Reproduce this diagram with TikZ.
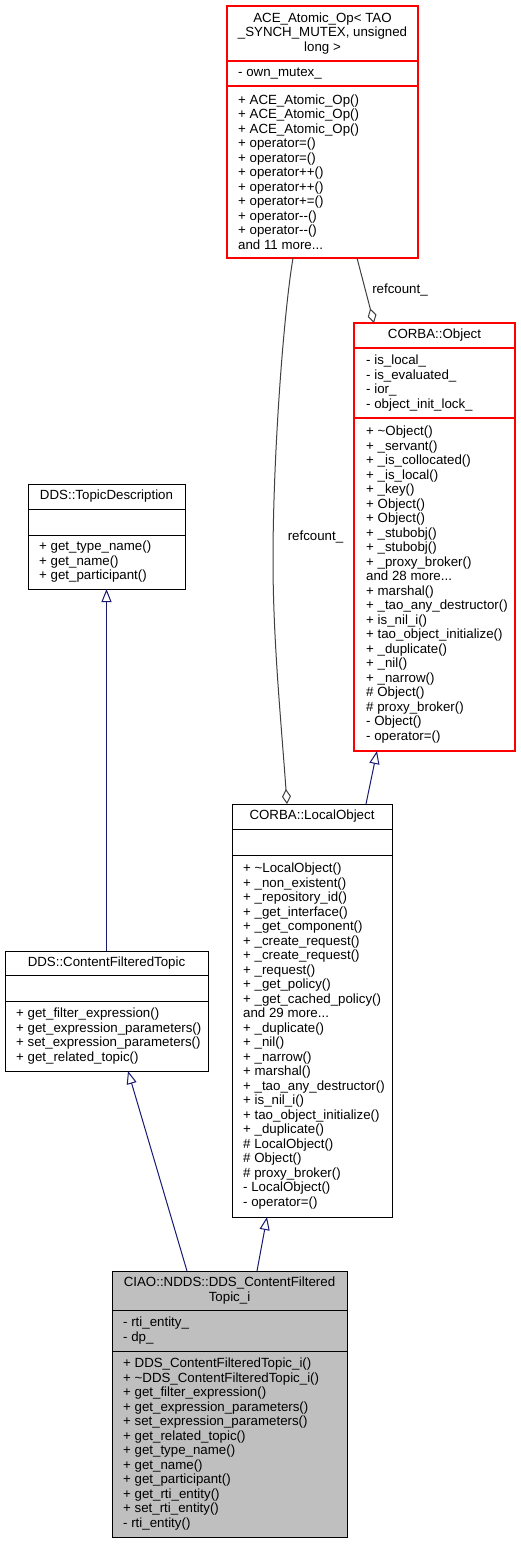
\documentclass[tikz,border=0pt]{standalone}
\usepackage{fontspec}
\setmainfont{Liberation Sans}
\usetikzlibrary{arrows.meta,calc}
\definecolor{edgeblue}{RGB}{25,25,112}
\definecolor{edgegray}{RGB}{64,64,64}
\definecolor{boxgray}{RGB}{191,191,191}
\begin{document}
\begin{tikzpicture}[x=1pt,y=-1pt,
  cls/.style={draw=black, line width=1pt, inner sep=0pt, outer sep=0pt, anchor=north west},
  redcls/.style={cls, draw=red, line width=1.2pt},
  sepline/.style={draw=black, line width=1pt},
  redsep/.style={draw=red, line width=1.2pt},
  ttl/.style={inner sep=0pt, align=center, font=\fontsize{13.3}{14.5}\selectfont},
  mem/.style={inner sep=0pt, align=left, anchor=west, font=\fontsize{13.3}{14.5}\selectfont},
  inh/.style={draw=edgeblue, line width=1pt, -{Triangle[open, length=13pt, width=10pt]}},
  useedge/.style={draw=edgegray, line width=1pt, -{Diamond[open, length=15pt, width=9pt]}},
  lbl/.style={inner sep=0pt, font=\fontsize{13.3}{14.5}\selectfont},
]
\useasboundingbox (0,0) rectangle (520,1544);
\fill[white] (0,0) rectangle (520,1544);

% ACE_Atomic_Op
\node[redcls, minimum width=191pt, minimum height=252pt] (ace) at (227,6) {};
\draw[redsep] (ace.west |- 0,61) -- (ace.east |- 0,61);
\draw[redsep] (ace.west |- 0,86) -- (ace.east |- 0,86);
\node[ttl] (acet) at (322.5,33.5) {ACE\_Atomic\_Op< TAO\\\_SYNCH\_MUTEX, unsigned\\long >};
\node[mem] (acea) at (238,73.5) {- own\_mutex\_};
\node[mem] (acem) at (238,172) {+ ACE\_Atomic\_Op()\\+ ACE\_Atomic\_Op()\\+ ACE\_Atomic\_Op()\\+ operator=()\\+ operator=()\\+ operator++()\\+ operator++()\\+ operator+=()\\+ operator-\kern0pt-()\\+ operator-\kern0pt-()\\and 11 more...};

% CORBA::Object
\node[redcls, minimum width=161pt, minimum height=428pt] (obj) at (354,323) {};
\draw[redsep] (obj.west |- 0,348) -- (obj.east |- 0,348);
\draw[redsep] (obj.west |- 0,418) -- (obj.east |- 0,418);
\node[ttl] (objt) at (434.5,335.5) {CORBA::Object};
\node[mem] (obja) at (366,383) {- is\_local\_\\- is\_evaluated\_\\- ior\_\\- object\_init\_lock\_};
\node[mem] (objm) at (366,584.5) {+ \textasciitilde Object()\\+ \_servant()\\+ \_is\_collocated()\\+ \_is\_local()\\+ \_key()\\+ Object()\\+ Object()\\+ \_stubobj()\\+ \_stubobj()\\+ \_proxy\_broker()\\and 28 more...\\+ marshal()\\+ \_tao\_any\_destructor()\\+ is\_nil\_i()\\+ tao\_object\_initialize()\\+ \_duplicate()\\+ \_nil()\\+ \_narrow()\\\# Object()\\\# proxy\_broker()\\- Object()\\- operator=()};

% DDS::TopicDescription
\node[cls, minimum width=157pt, minimum height=105pt] (td) at (28,484) {};
\draw[sepline] (td.west |- 0,509) -- (td.east |- 0,509);
\draw[sepline] (td.west |- 0,535) -- (td.east |- 0,535);
\node[ttl] (tdt) at (106.5,496.5) {DDS::TopicDescription};
\node[mem] (tdm) at (39,562) {+ get\_type\_name()\\+ get\_name()\\+ get\_participant()};

% CORBA::LocalObject
\node[cls, minimum width=160pt, minimum height=413pt] (lo) at (232,804) {};
\draw[sepline] (lo.west |- 0,829) -- (lo.east |- 0,829);
\draw[sepline] (lo.west |- 0,855) -- (lo.east |- 0,855);
\node[ttl] (lot) at (312,816.5) {CORBA::LocalObject};
\node[mem] (lom) at (243,1036) {+ \textasciitilde LocalObject()\\+ \_non\_existent()\\+ \_repository\_id()\\+ \_get\_interface()\\+ \_get\_component()\\+ \_create\_request()\\+ \_create\_request()\\+ \_request()\\+ \_get\_policy()\\+ \_get\_cached\_policy()\\and 29 more...\\+ \_duplicate()\\+ \_nil()\\+ \_narrow()\\+ marshal()\\+ \_tao\_any\_destructor()\\+ is\_nil\_i()\\+ tao\_object\_initialize()\\+ \_duplicate()\\\# LocalObject()\\\# Object()\\\# proxy\_broker()\\- LocalObject()\\- operator=()};

% DDS::ContentFilteredTopic
\node[cls, minimum width=203pt, minimum height=120pt] (cft) at (5,951) {};
\draw[sepline] (cft.west |- 0,975) -- (cft.east |- 0,975);
\draw[sepline] (cft.west |- 0,1001) -- (cft.east |- 0,1001);
\node[ttl] (cftt) at (106.5,963) {DDS::ContentFilteredTopic};
\node[mem] (cftm) at (16,1036) {+ get\_filter\_expression()\\+ get\_expression\_parameters()\\+ set\_expression\_parameters()\\+ get\_related\_topic()};

% CIAO::NDDS::DDS_ContentFilteredTopic_i
\node[cls, fill=boxgray, minimum width=235pt, minimum height=266pt] (ciao) at (112,1271) {};
\draw[sepline] (ciao.west |- 0,1310) -- (ciao.east |- 0,1310);
\draw[sepline] (ciao.west |- 0,1351) -- (ciao.east |- 0,1351);
\node[ttl] (ciaot) at (229.5,1290.5) {CIAO::NDDS::DDS\_ContentFiltered\\Topic\_i};
\node[mem] (ciaoa) at (123,1330.5) {- rti\_entity\_\\- dp\_};
\node[mem] (ciaom) at (123,1444) {+ DDS\_ContentFilteredTopic\_i()\\+ \textasciitilde DDS\_ContentFilteredTopic\_i()\\+ get\_filter\_expression()\\+ get\_expression\_parameters()\\+ set\_expression\_parameters()\\+ get\_related\_topic()\\+ get\_type\_name()\\+ get\_name()\\+ get\_participant()\\+ get\_rti\_entity()\\+ set\_rti\_entity()\\- rti\_entity()};

% inheritance edges
\draw[inh] (cft.north) -- (td.south);
\draw[inh] ($(ciao.north west)+(75,0)$) -- ($(cft.south west)+(123,0)$);
\draw[inh] ($(ciao.north west)+(145,0)$) -- ($(lo.south west)+(35,0)$);
\draw[inh] ($(lo.north west)+(134,0)$) -- ($(obj.south west)+(23,0)$);

% usage edges
\draw[useedge] ($(ace.south west)+(130,0)$) -- ($(obj.north west)+(20,0)$);
\node[lbl] (lbl1) at (400,290) {refcount\_};
\draw[useedge] ($(ace.south west)+(66,0)$) .. controls (283,318) and (273,460) .. (273,560)
  .. controls (273,640) and (281,720) .. ($(lo.north west)+(55,0)$);
\node[lbl] (lbl2) at (315.5,537) {refcount\_};
\end{tikzpicture}
\end{document}
